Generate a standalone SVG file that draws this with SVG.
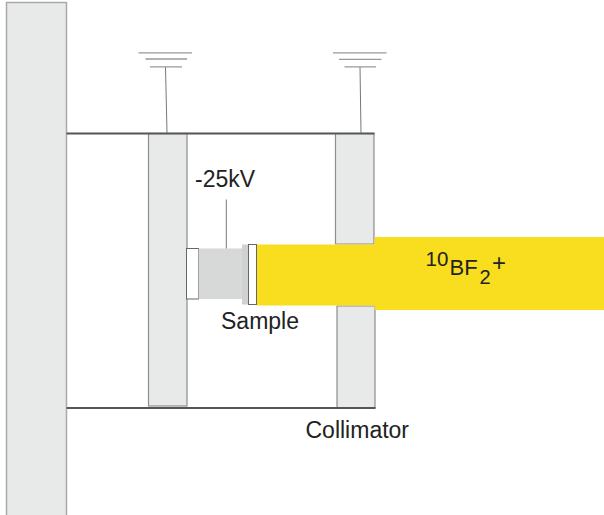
<svg xmlns="http://www.w3.org/2000/svg" width="604" height="515" viewBox="0 0 604 515">
<style>
.part{fill:#e8e9e9;stroke:#8e8e8e;stroke-width:1.2}
.edge{stroke:#555;stroke-width:1.8;fill:none}
.thin{stroke:#777;stroke-width:1;fill:none}
.gnd{stroke:#999;stroke-width:1.3;fill:none}
.white{fill:#fff;stroke:#666;stroke-width:1}
.beam{fill:#f8de1f}
text{font-family:"Liberation Sans",Arial,sans-serif;fill:#222;font-size:23px}
</style>
<rect width="604" height="515" fill="#fff"/>
<g id="wall"><path d="M6.500 515V2.500H66.500V515" class="part" style="stroke:#aaa;stroke-width:1.500"/></g>
<g id="left-plate"><rect x="148.500" y="133.500" width="38.500" height="272.500" class="part"/></g>
<g id="collimator">
<path d="M335.500 133.500H374V244H335.500Z" class="part"/>
<path d="M337 306H375V408H337Z" class="part"/>
</g>
<g id="beam">
<rect x="257" y="244.500" width="118" height="61" class="beam"/>
<rect x="374.500" y="237" width="229.500" height="73" class="beam"/>
</g>
<g id="sample-holder">
<rect x="186.500" y="248.500" width="12" height="50.500" class="white"/>
<rect x="198.500" y="248.500" width="44" height="50.500" fill="#d7d8d8"/>
<rect x="242" y="244.500" width="7" height="60" fill="#d0d1d1"/>
<rect x="248.500" y="244.500" width="8" height="60" class="white"/>
</g>
<g id="connectors">
<path d="M66.500 133.500H374.500" class="edge"/>
<path d="M66.500 408H375.500" class="edge"/>
<path d="M165.500 67L167 133" class="thin"/>
<path d="M360 67L361 133" class="thin"/>
<path d="M226.300 199.500V248.500" class="thin"/>
<path d="M138.500 52.800H192M145.500 59H187M150 66.800H182" class="gnd"/>
<path d="M333 52.800H386.500M339 59.300H381.500M344.500 66.800H376" class="gnd"/>
</g>
<g id="labels">
<text x="195" y="187">-25kV</text>
<text x="221" y="328.500">Sample</text>
<text x="305.500" y="437.500">Collimator</text>
<text x="425.500" y="266" style="font-size:20.500px">10</text>
<text x="449.500" y="274.500" style="font-size:22px">BF</text>
<text x="479.500" y="284" style="font-size:20px">2</text>
<text x="492" y="271" style="font-size:24px">+</text>
</g>
</svg>
